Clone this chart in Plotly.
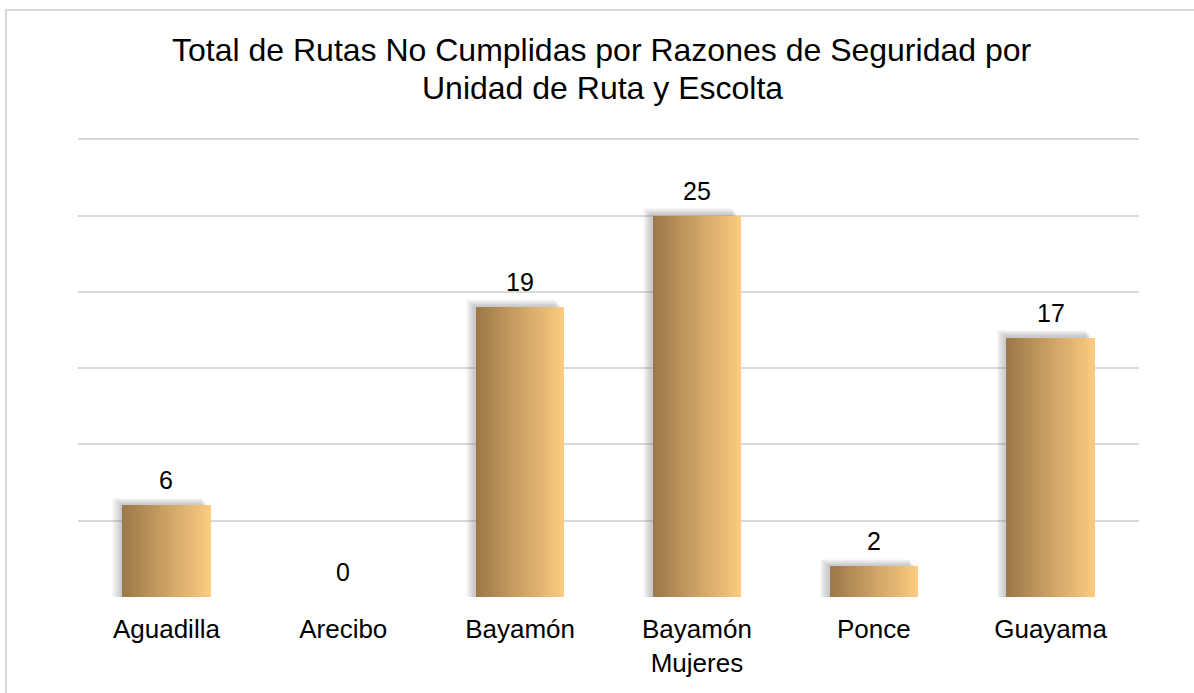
import plotly.graph_objects as go

categories = ["Aguadilla", "Arecibo", "Bayamón", "Bayamón<br>Mujeres", "Ponce", "Guayama"]
values = [6, 0, 19, 25, 2, 17]
title_lines = ["Total de Rutas No Cumplidas por Razones de Seguridad por",
               "Unidad de Ruta y Escolta"]

W, H = 1194, 693
L, R, T, B = 78, 55, 138, 96
PW, PH = W - L - R, H - T - B
FONT = "Liberation Sans, Arial, sans-serif"

left_rgb = (156, 121, 73)
right_rgb = (252, 202, 128)

fig = go.Figure()
xs = list(range(len(categories)))
bw = 0.5

# soft blurred shadow (up-left), built from faint stacked layers
NS = 10
for j in range(NS):
    f = (j + 1) / NS
    left_ext = 0.005 + 0.05 * f
    top_ext = 0.05 + 0.45 * f
    right_edge = bw / 2 - 0.02 - 0.03 * f
    fig.add_trace(go.Bar(
        x=xs, y=[v + top_ext if v > 0 else 0 for v in values],
        width=right_edge + bw / 2 + left_ext, offset=-bw / 2 - left_ext,
        marker=dict(color="rgba(110,110,110,0.045)", line=dict(width=0)),
        hoverinfo="skip", showlegend=False))

# gradient bars: thin overlaid slices
N = 40
for i in range(N):
    t = i / (N - 1)
    c = tuple(round(left_rgb[k] + (right_rgb[k] - left_rgb[k]) * t) for k in range(3))
    w = bw / N * (1.6 if i < N - 1 else 1.0)
    fig.add_trace(go.Bar(
        x=xs, y=values,
        width=w, offset=-bw / 2 + i * bw / N,
        marker=dict(color=f"rgb{c}", line=dict(width=0)),
        hoverinfo="skip", showlegend=False))

annotations = []
for x, v in zip(xs, values):
    annotations.append(dict(x=x, y=v, xref="x", yref="y", text=str(v), showarrow=False,
                            yanchor="bottom", yshift=9,
                            font=dict(size=25, color="black", family=FONT)))
# title lines
for k, line in enumerate(title_lines):
    cy = 50 + 38 * k
    annotations.append(dict(x=(602 - L) / PW, y=(H - B - cy) / PH, xref="paper", yref="paper",
                            text=line, showarrow=False, xanchor="center", yanchor="middle",
                            font=dict(size=32, color="black", family=FONT)))

fig.update_layout(
    width=W, height=H, barmode="overlay", bargap=0,
    margin=dict(l=L, r=R, t=T, b=B),
    paper_bgcolor="white", plot_bgcolor="white",
    font=dict(family=FONT, color="black"),
    annotations=annotations,
    xaxis=dict(tickvals=xs, ticktext=categories, range=[-0.5, len(categories) - 0.5],
               showgrid=False, zeroline=False, showline=False, ticks="",
               ticklabelstandoff=14,
               tickfont=dict(size=26, family=FONT, color="black")),
    yaxis=dict(range=[0, 30.08], tickvals=[0, 5, 10, 15, 20, 25, 30], showticklabels=False,
               showgrid=True, gridcolor="#d9d9d9", gridwidth=2, zeroline=False,
               showline=False, ticks=""),
    shapes=[dict(type="rect", xref="paper", yref="paper",
                 x0=(6 - L) / PW, x1=(W + 20 - L) / PW,
                 y0=-(H + 20 - (H - B)) / PH, y1=(H - B - 10) / PH,
                 line=dict(color="#d9d9d9", width=2), layer="below")],
)

fig.write_html("out.html", config={"displayModeBar": False},
               post_script="document.body.style.margin='0';")
